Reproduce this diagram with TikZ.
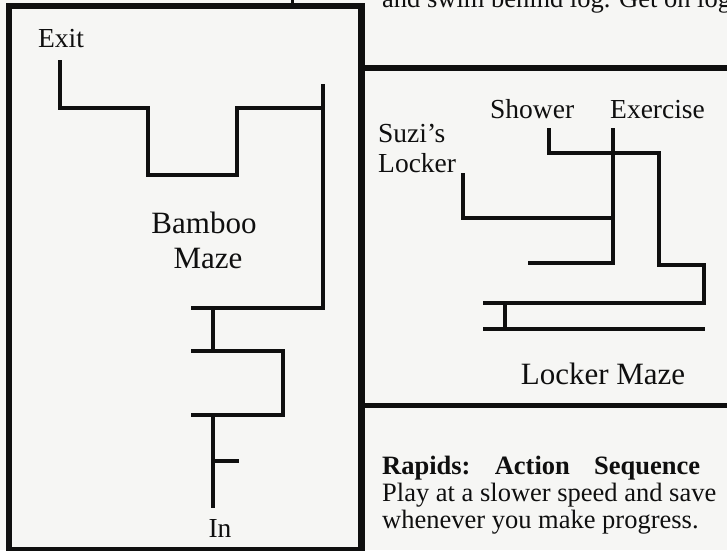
\documentclass[tikz,border=0pt]{standalone}
\usepackage{fontspec}
\setmainfont{Liberation Serif}
\definecolor{paper}{RGB}{246,246,244}
\definecolor{ink}{RGB}{15,15,15}
\begin{document}
\begin{tikzpicture}[x=1pt,y=-1pt,
  maze/.style={draw=ink,line width=4pt,line join=miter},
  frame/.style={draw=ink,line width=6.5pt},
  lbl/.style={inner sep=0pt,text=ink,font=\fontsize{27.5}{30}\selectfont},
  title/.style={inner sep=0pt,text=ink,font=\fontsize{31}{34}\selectfont},
  body/.style={inner sep=0pt,text=ink,font=\fontsize{26.5}{28}\selectfont,anchor=base west}]
\useasboundingbox (0,0) rectangle (727,550);
\clip (0,0) rectangle (727,550);
\fill[paper] (0,0) rectangle (727,550);
% frames
\draw[frame] (9,6) rectangle (361.5,550);
\draw[ink,line width=3pt] (292,0) -- (292,6);
\draw[frame] (361.5,68) -- (727,68);
\draw[frame,line width=5pt] (361.5,405) -- (727,405);
% top text (cut off, as in the source)
\node[body] (top) at (382,7) {and swim behind log. Get on log};
% Bamboo maze
\draw[maze] (60,60) -- (60,108) -- (148,108) -- (148,175) -- (237,175) -- (237,108) -- (325,108);
\draw[maze] (323,84) -- (323,308) -- (191,308);
\draw[maze] (213,308) -- (213,351);
\draw[maze] (191,351) -- (283,351) -- (283,415) -- (191,415);
\draw[maze] (213,415) -- (213,508);
\draw[maze] (213,461) -- (239,461);
\node[lbl,anchor=base] (exit) at (61,47) {Exit};
\node[title,anchor=base] (bamboo) at (204,233) {Bamboo};
\node[title,anchor=base] (maze) at (208,268) {Maze};
\node[lbl,anchor=base] (in) at (220,537) {In};
% Locker maze
\draw[maze] (549,128) -- (549,153) -- (659,153) -- (659,265) -- (704,265) -- (704,303) -- (483,303);
\draw[maze] (613,128) -- (613,263) -- (528,263);
\draw[maze] (463,173) -- (463,218) -- (613,218);
\draw[maze] (483,329) -- (705,329);
\draw[maze] (505,303) -- (505,329);
\node[lbl,anchor=base west] (shower) at (490,118) {Shower};
\node[lbl,anchor=base west] (exercise) at (610,118) {Exercise};
\node[lbl,anchor=base west] (suzi) at (378,142) {Suzi’s};
\node[lbl,anchor=base west] (locker) at (378,172) {Locker};
\node[title,anchor=base] (lockermaze) at (603,384) {Locker Maze};
% Rapids text
\node[body] (r1) at (382,474) {\hbox to 318pt{\textbf{Rapids:}\hfill\textbf{Action}\hfill\textbf{Sequence}}};
\node[body] (r2) at (382,501) {Play at a slower speed and save};
\node[body] (r3) at (382,528) {whenever you make progress.};
\end{tikzpicture}
\end{document}
